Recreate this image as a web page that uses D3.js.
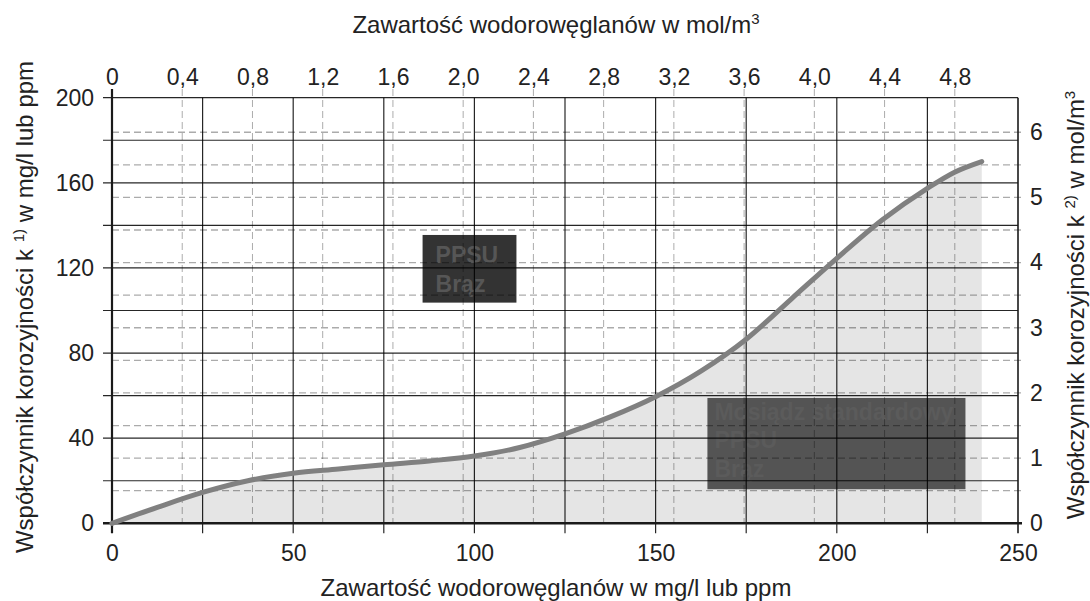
<!DOCTYPE html>
<html>
<head>
<meta charset="utf-8">
<script src="https://cdn.jsdelivr.net/npm/d3@7/dist/d3.min.js"></script>
<style>
	body { margin: 0; background: #fff; }
	svg text { font-family: "Liberation Sans", Arial, sans-serif; }
</style>
</head>
<body>
<div id="graph"></div>
<script>
// curve data: bicarbonate content (mg/l) -> corrosion coefficient k
var mgValues = [0, 12.5, 25, 37.5, 50, 62.5, 75, 87.5, 100, 112.5, 125, 137.5, 150, 162.5, 175, 187.5, 200, 212.5, 225, 232.5, 240];
var kValues  = [0, 7.5, 14.5, 20, 23.5, 25.5, 27.5, 29.3, 31.6, 35.6, 42, 50, 59.5, 71.5, 86.5, 105.5, 124.5, 142.5, 157.4, 165, 170];

// tick labels
var bottomTicks = [0, 50, 100, 150, 200, 250];
var leftTicks = [0, 40, 80, 120, 160, 200];
var topTicks = [0, 0.4, 0.8, 1.2, 1.6, 2.0, 2.4, 2.8, 3.2, 3.6, 4.0, 4.4, 4.8];
var rightTicks = [0, 1, 2, 3, 4, 5, 6];

// material boxes (in mg/l and k units)
var boxLabels1 = ["PPSU", "Brąz"];
var boxX1 = [85.7, 111.6], boxY1 = [103.7, 135.5];
var boxLabels2 = ["Mosiądz standardowy", "PPSU", "Brąz"];
var boxX2 = [164.3, 235.5], boxY2 = [16, 58.9];

(function() {
	var svg = d3.select("#graph").append("svg")
		.attr("width", 1090)
		.attr("height", 601);

	var x = d3.scaleLinear().domain([0, 250]).range([112, 1018]);
	var y = d3.scaleLinear().domain([0, 200]).range([523.3, 97.7]);
	// secondary scales in mol/m3
	var xTop = d3.scaleLinear().domain([0, 250 / 48.45]).range([112, 1018]);
	var yRight = d3.scaleLinear().domain([0, 6.53]).range([523.3, 97.7]);

	var pts = mgValues.map(function(d, i) { return [d, kValues[i]]; });

	// light grey area under the curve
	svg.append("path")
		.datum(pts)
		.attr("fill", "#e5e5e5")
		.attr("d", d3.area()
			.x(function(d) { return x(d[0]); })
			.y0(y(0))
			.y1(function(d) { return y(d[1]); })
			.curve(d3.curveMonotoneX));

	// boxes sit under the grid
	var drawBox = function(bx, by, labels, fill, textFill, tx, ty, lh) {
		svg.append("rect")
			.attr("x", x(bx[0]))
			.attr("y", y(by[1]))
			.attr("width", x(bx[1]) - x(bx[0]))
			.attr("height", y(by[0]) - y(by[1]))
			.attr("fill", fill);
		svg.append("g").selectAll("text")
			.data(labels)
			.enter().append("text")
			.attr("x", x(bx[0]) + tx)
			.attr("y", function(d, i) { return y(by[1]) + ty + i * lh; })
			.attr("font-size", 23)
			.attr("font-weight", "bold")
			.attr("fill", textFill)
			.text(function(d) { return d; });
	};
	drawBox(boxX1, boxY1, boxLabels1, "#333333", "#565656", 13, 27.7, 29);
	drawBox(boxX2, boxY2, boxLabels2, "#545454", "#5b5b5b", 7, 22, 28.3);

	var grid = svg.append("g");
	var dash = "rgba(0,0,0,0.33)";
	var solid = "rgba(0,0,0,0.85)";

	// dashed verticals from the mol/m3 scale, poking above the frame as ticks
	grid.selectAll(".vd")
		.data(topTicks.filter(function(d) { return d > 0; }))
		.enter().append("line")
		.attr("x1", function(d) { return xTop(d); })
		.attr("x2", function(d) { return xTop(d); })
		.attr("y1", 89)
		.attr("y2", y(0))
		.attr("stroke", dash)
		.attr("stroke-width", 1)
		.attr("stroke-dasharray", "7,4");

	// dashed horizontals from the right scale, every 0.5
	var halfSteps = d3.range(1, 13).map(function(i) { return i * 0.5; });
	grid.selectAll(".hd")
		.data(halfSteps)
		.enter().append("line")
		.attr("x1", x(0))
		.attr("x2", 1023)
		.attr("y1", function(d) { return yRight(d); })
		.attr("y2", function(d) { return yRight(d); })
		.attr("stroke", dash)
		.attr("stroke-width", 1.3)
		.attr("stroke-dasharray", "7,4");

	// solid verticals every 25 mg/l
	grid.selectAll(".vs")
		.data(d3.range(25, 250, 25))
		.enter().append("line")
		.attr("x1", function(d) { return x(d); })
		.attr("x2", function(d) { return x(d); })
		.attr("y1", y(200))
		.attr("y2", y(0) + 10)
		.attr("stroke", solid)
		.attr("stroke-width", 1.2);

	// solid horizontals every 20
	grid.selectAll(".hs")
		.data(d3.range(20, 220, 20))
		.enter().append("line")
		.attr("x1", x(0) - 9)
		.attr("x2", x(250))
		.attr("y1", function(d) { return y(d); })
		.attr("y2", function(d) { return y(d); })
		.attr("stroke", solid)
		.attr("stroke-width", 1.2);

	// frame: left axis, bottom axis, right border
	svg.append("line")
		.attr("x1", x(0)).attr("x2", x(0))
		.attr("y1", 89).attr("y2", y(0) + 10)
		.attr("stroke", "#1a1a1a").attr("stroke-width", 2.2);
	svg.append("line")
		.attr("x1", x(0) - 9).attr("x2", x(250) + 4)
		.attr("y1", y(0)).attr("y2", y(0))
		.attr("stroke", "#1a1a1a").attr("stroke-width", 2.6);
	svg.append("line")
		.attr("x1", x(250)).attr("x2", x(250))
		.attr("y1", y(200)).attr("y2", y(0) + 10)
		.attr("stroke", "#1a1a1a").attr("stroke-width", 1.6);

	// the curve
	svg.append("path")
		.datum(pts)
		.attr("fill", "none")
		.attr("stroke", "#808080")
		.attr("stroke-width", 5)
		.attr("stroke-linecap", "round")
		.attr("d", d3.line()
			.x(function(d) { return x(d[0]); })
			.y(function(d) { return y(d[1]); })
			.curve(d3.curveMonotoneX));

	// axes (labels only, tick lines are the grid above)
	var styleAxis = function(g) {
		g.select(".domain").remove();
		g.selectAll("line").remove();
		g.selectAll("text").attr("font-size", 23).attr("fill", "#222")
			.attr("font-family", "Liberation Sans, Arial, sans-serif");
	};
	var comma = function(d) { return d === 0 ? "0" : d3.format(".1f")(d).replace(".", ","); };

	svg.append("g")
		.attr("transform", "translate(0," + y(0) + ")")
		.call(d3.axisBottom(x).tickValues(bottomTicks).tickSize(0).tickPadding(21))
		.call(styleAxis);
	svg.append("g")
		.attr("transform", "translate(" + x(0) + ",0)")
		.call(d3.axisLeft(y).tickValues(leftTicks).tickSize(0).tickPadding(18))
		.call(styleAxis);
	svg.append("g")
		.attr("transform", "translate(0," + y(200) + ")")
		.call(d3.axisTop(xTop).tickValues(topTicks).tickFormat(comma).tickSize(0).tickPadding(12.7))
		.call(styleAxis);
	svg.append("g")
		.attr("transform", "translate(" + x(250) + ",0)")
		.call(d3.axisRight(yRight).tickValues(rightTicks).tickFormat(d3.format("d")).tickSize(0).tickPadding(12))
		.call(styleAxis);

	// titles
	var title = function(tx, ty, rot, parts) {
		var t = svg.append("text")
			.attr("transform", "translate(" + tx + "," + ty + ")" + (rot ? " rotate(-90)" : ""))
			.attr("text-anchor", "middle")
			.attr("font-size", 24)
			.attr("fill", "#222");
		parts.forEach(function(p) {
			var s = t.append("tspan").text(p[0]);
			if (p[1] === "sup") s.attr("font-size", 15).attr("dy", -9);
			if (p[1] === "down") s.attr("dy", 9);
		});
	};
	title(556, 33, false, [["Zawartość wodorowęglanów w mol/m"], ["3", "sup"]]);
	title(556, 596, false, [["Zawartość wodorowęglanów w mg/l lub ppm"]]);
	title(33, 307, true, [["Współczynnik korozyjności k "], ["1)", "sup"], [" w mg/l lub ppm", "down"]]);
	title(1084, 305, true, [["Współczynnik korozyjności k "], ["2)", "sup"], [" w mol/m", "down"], ["3", "sup"]]);
})();
</script>
</body>
</html>
